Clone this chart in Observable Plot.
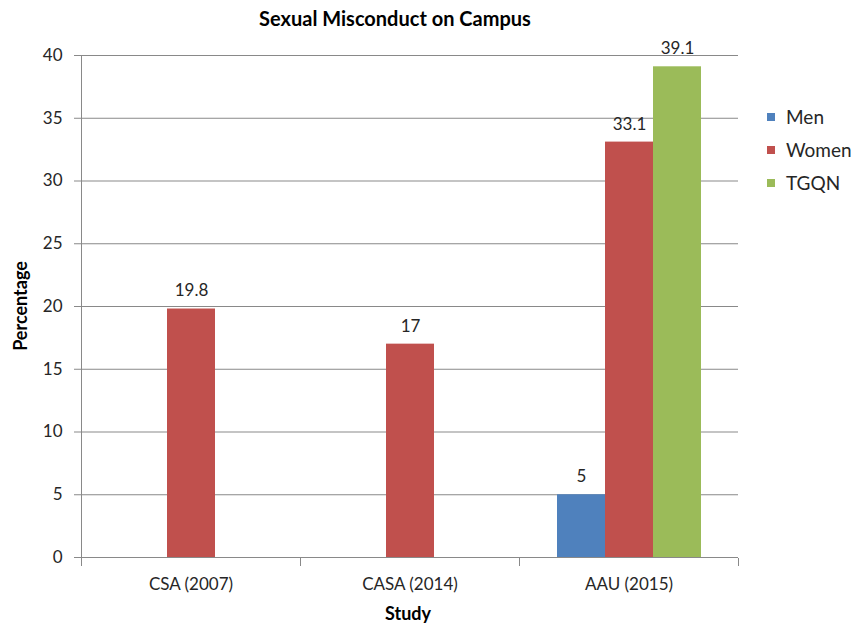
<!DOCTYPE html>
<html>
<head>
<meta charset="utf-8">
<script src="https://cdn.jsdelivr.net/npm/d3@7"></script>
<script src="https://cdn.jsdelivr.net/npm/@observablehq/plot@0.6"></script>
<style>
  html, body { margin: 0; padding: 0; background: #fff; }
  #page { position: relative; width: 860px; height: 626px; font-family: Lato, "Open Sans", sans-serif; color: #262626; overflow: hidden; }
  #title { position: absolute; left: 0; top: 5px; width: 790px; text-align: center; font-weight: bold; font-size: 20px; line-height: 26px; color: #000; }
  #chart { position: absolute; left: 0; top: 36px; }
  #xlabel { position: absolute; left: 308px; width: 200px; top: 601px; text-align: center; font-weight: bold; font-size: 18px; line-height: 24px; color: #000; }
  #ylabel { position: absolute; left: 20px; top: 306px; transform: translate(-50%, -50%) rotate(-90deg); font-weight: bold; font-size: 18px; line-height: 22px; color: #000; white-space: nowrap; }
  #legend { position: absolute; left: 767px; top: 100px; font-size: 19px; }
  .item { display: flex; align-items: center; height: 33px; }
  .sw { width: 8px; height: 8px; margin-right: 11px; }
</style>
</head>
<body>
<div id="page">
  <div id="title">Sexual Misconduct on Campus</div>
  <div id="chart"></div>
  <div id="xlabel">Study</div>
  <div id="ylabel">Percentage</div>
  <div id="legend"></div>
</div>
<script>
const studies = ["CSA (2007)", "CASA (2014)", "AAU (2015)"];
const groups = ["Men", "Women", "TGQN"];
const colors = ["#4F81BD", "#C0504D", "#9BBB59"];
const men = [null, null, 5];
const women = [19.8, 17, 33.1];
const tgqn = [null, null, 39.1];
const yTicks = [0, 5, 10, 15, 20, 25, 30, 35, 40];

const series = {Men: men, Women: women, TGQN: tgqn};
const data = [];
studies.forEach((s, i) => {
  groups.forEach(g => {
    const v = series[g][i];
    if (v != null) data.push({study: s, group: g, value: v});
  });
});

const gridColor = "#898989";
const NS = "http://www.w3.org/2000/svg";
function line(x1, y1, x2, y2) {
  const l = document.createElementNS(NS, "line");
  l.setAttribute("x1", x1); l.setAttribute("x2", x2);
  l.setAttribute("y1", y1); l.setAttribute("y2", y2);
  l.setAttribute("stroke", gridColor);
  return l;
}

const chart = Plot.plot({
  width: 860,
  height: 590,
  marginLeft: 80,
  marginRight: 122,
  marginTop: 19,
  marginBottom: 69,
  style: {fontFamily: "Lato, 'Open Sans', sans-serif", fontSize: "17px", color: "#262626", background: "#fff"},
  fx: {domain: studies, padding: 0, axis: "bottom", tickSize: 0, tickPadding: 20, label: null, fontSize: 17},
  x: {domain: groups, paddingInner: 0, paddingOuter: 0.75, axis: null},
  y: {domain: [0, 40], axis: null},
  color: {domain: groups, range: colors},
  marks: [
    Plot.gridY(yTicks, {stroke: gridColor, strokeOpacity: 1}),
    Plot.axisY(yTicks, {tickSize: 7, tickPadding: 12, stroke: gridColor, strokeOpacity: 1, fill: "#262626", label: null, fontSize: 17}),
    // baseline with category boundary ticks
    Plot.ruleY([0], {stroke: gridColor, render(index, scales, values, dims, context, next) {
      const g = next(index, scales, values, dims, context);
      const [x0, x1] = scales.x.range();
      const y0 = Math.round(scales.y(0)) + 0.5;
      for (const x of [x0, x1]) g.appendChild(line(Math.round(x) + 0.5, y0, Math.round(x) + 0.5, y0 + 8));
      return g;
    }}),
    // vertical value axis line in the first facet
    Plot.ruleY([studies[0]], {fx: d => d, y: () => 0, render(index, scales, values, dims) {
      const g = document.createElementNS(NS, "g");
      const x = Math.round(scales.x.range()[0]) + 0.5;
      g.appendChild(line(x, Math.round(scales.y(yTicks[yTicks.length - 1])), x, Math.round(scales.y(0)) + 1));
      return g;
    }}),
    Plot.barY(data, {fx: "study", x: "group", y: "value", fill: "group"}),
    Plot.text(data, {fx: "study", x: "group", y: "value", text: d => String(d.value), dy: -18, fontSize: 17, fill: "#262626"})
  ]
});
document.getElementById("chart").appendChild(chart);

const legend = document.getElementById("legend");
groups.forEach((g, i) => {
  const it = document.createElement("div");
  it.className = "item";
  it.innerHTML = `<span class="sw" style="background:${colors[i]}"></span><span>${g}</span>`;
  legend.appendChild(it);
});
</script>
</body>
</html>
